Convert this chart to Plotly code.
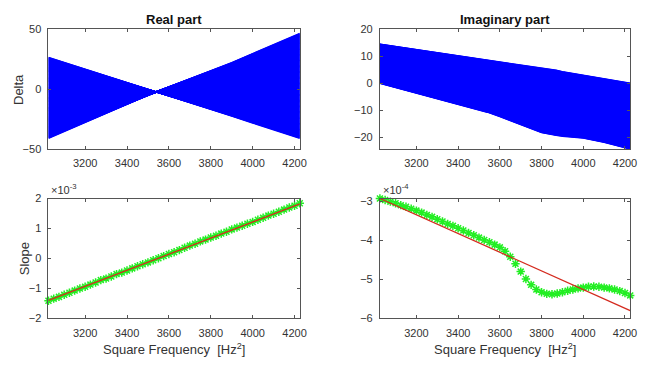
import numpy as np
import plotly.graph_objects as go

W, H = 657, 368

# ---------------- data ----------------
# Square-frequency nodes for the fan of Delta lines (top panels)
fan_freq = [3025, 3200, 3400, 3540, 3600, 3700, 3800, 3870, 3900, 4000, 4100, 4225]
# Real part: Delta of the first and the last line of the family
real_first = [26.6, 16.9, 5.8, -2.0, -5.4, -11.1, -16.8, -20.8, -22.5, -28.2, -33.9, -41.0]
real_last = [-41.0, -27.7, -12.6, -2.0, 2.0, 8.7, 15.3, 20.0, 22.2, 29.7, 37.2, 46.5]
# Imaginary part: Delta of the first and the last line of the family
imag_first = [14.5, 12.5, 10.4, 8.8, 8.1, 6.9, 5.7, 4.8, 4.3, 2.9, 1.6, 0.0]
imag_last = [-0.1, -3.7, -7.8, -10.8, -12.4, -15.5, -18.4, -19.4, -19.7, -20.4, -22.0, -24.5]
n_lines = 220  # number of lines in each fan

# Slope samples (bottom panels)
slope_freq = [3025, 3050, 3075, 3100, 3125, 3150, 3175, 3200, 3225, 3250, 3275, 3300,
              3325, 3350, 3375, 3400, 3425, 3450, 3475, 3500, 3525, 3550, 3575, 3600,
              3625, 3650, 3675, 3700, 3725, 3750, 3775, 3800, 3825, 3850, 3875, 3900,
              3925, 3950, 3975, 4000, 4025, 4050, 4075, 4100, 4125, 4150, 4175, 4200, 4225]
# real-part slope, in units of 1e-3
slope_real = [-1.41, -1.34, -1.28, -1.21, -1.14, -1.07, -1.00, -0.94, -0.87, -0.80, -0.72, -0.67,
              -0.60, -0.52, -0.47, -0.40, -0.33, -0.26, -0.19, -0.13, -0.06, 0.01, 0.08, 0.15,
              0.21, 0.28, 0.36, 0.43, 0.49, 0.57, 0.63, 0.70, 0.76, 0.83, 0.89, 0.97,
              1.03, 1.09, 1.16, 1.22, 1.29, 1.36, 1.43, 1.49, 1.56, 1.63, 1.70, 1.76, 1.84]
# imaginary-part slope, in units of 1e-4
slope_imag = [-2.93, -2.97, -3.01, -3.05, -3.10, -3.14, -3.19, -3.24, -3.29, -3.35, -3.40, -3.46,
              -3.52, -3.58, -3.63, -3.69, -3.75, -3.81, -3.87, -3.93, -3.99, -4.05, -4.11, -4.18,
              -4.28, -4.42, -4.60, -4.80, -4.99, -5.14, -5.26, -5.33, -5.37, -5.38, -5.36, -5.33,
              -5.29, -5.26, -5.23, -5.21, -5.19, -5.18, -5.19, -5.21, -5.23, -5.26, -5.30, -5.35, -5.41]
# linear fits (end points)
fit_freq = [3025, 4225]
fit_real = [-1.40, 1.82]
fit_imag = [-2.93, -5.80]

x_ticks = [3200, 3400, 3600, 3800, 4000, 4200]

# ---------------- figure ----------------
BLUE = "#0000ff"
GREEN = "#22ee22"
RED = "#d42a1e"
AXC = "#555555"
TXT = "#333333"
FONT = "Liberation Sans, Arial, Helvetica, sans-serif"


def fan(first, last, n):
    xs, ys = [], []
    first = np.asarray(first, float)
    last = np.asarray(last, float)
    for t in np.linspace(0.0, 1.0, n):
        xs.extend(fan_freq + [None])
        ys.extend(list(first + (last - first) * t) + [None])
    return xs, ys


fig = go.Figure()

xr, yr = fan(real_first, real_last, n_lines)
fig.add_trace(go.Scatter(x=xr, y=yr, mode="lines", line=dict(color=BLUE, width=1.3),
                         xaxis="x", yaxis="y", showlegend=False, hoverinfo="skip"))
xi, yi = fan(imag_first, imag_last, n_lines)
fig.add_trace(go.Scatter(x=xi, y=yi, mode="lines", line=dict(color=BLUE, width=1.3),
                         xaxis="x2", yaxis="y2", showlegend=False, hoverinfo="skip"))

for s, fit, xa, ya in [(slope_real, fit_real, "x3", "y3"), (slope_imag, fit_imag, "x4", "y4")]:
    fig.add_trace(go.Scatter(x=slope_freq, y=s, mode="markers",
                             marker=dict(symbol="asterisk-open", size=7,
                                         line=dict(color=GREEN, width=1.5), color=GREEN),
                             cliponaxis=False, xaxis=xa, yaxis=ya, showlegend=False))
    fig.add_trace(go.Scatter(x=fit_freq, y=fit, mode="lines", line=dict(color=RED, width=1.3),
                             xaxis=xa, yaxis=ya, showlegend=False))


def px_x(a, b):
    return [a / W, b / W]


def px_y(top, bottom):
    return [1 - bottom / H, 1 - top / H]


common = dict(showline=True, linecolor=AXC, linewidth=1, mirror="ticks", ticks="inside",
              ticklen=3, tickcolor=AXC, showgrid=False, zeroline=False,
              ticklabelstandoff=4,
              tickfont=dict(family=FONT, size=11, color=TXT))

LX = px_x(49, 303)
RX = px_x(384, 637)
TY = px_y(24, 148)
BY = px_y(199, 323)

xax = dict(range=[3025, 4225], tickvals=x_ticks, **common)
fig.update_layout(
    xaxis=dict(domain=LX, anchor="y", **xax),
    yaxis=dict(domain=TY, anchor="x", range=[-50, 50], tickvals=[-50, 0, 50], **common),
    xaxis2=dict(domain=RX, anchor="y2", **xax),
    yaxis2=dict(domain=TY, anchor="x2", range=[-24.5, 20], tickvals=[-20, -10, 0, 10, 20], **common),
    xaxis3=dict(domain=LX, anchor="y3", **xax),
    yaxis3=dict(domain=BY, anchor="x3", range=[-2, 2], tickvals=[-2, -1, 0, 1, 2], **common),
    xaxis4=dict(domain=RX, anchor="y4", **xax),
    yaxis4=dict(domain=BY, anchor="x4", range=[-6, -2.93], tickvals=[-6, -5, -4, -3], **common),
    width=W, height=H, margin=dict(l=0, r=0, t=0, b=0),
    paper_bgcolor="white", plot_bgcolor="white",
    font=dict(family=FONT, color=TXT),
)


def ann(text, x, y, size, color=TXT, angle=0, xanchor="center", yanchor="middle"):
    fig.add_annotation(text=text, x=x / W, y=1 - y / H, xref="paper", yref="paper",
                       showarrow=False, textangle=angle, xanchor=xanchor, yanchor=yanchor,
                       font=dict(family=FONT, size=size, color=color))


ann("<b>Real part</b>", 176, 14, 13, color="#111111")
ann("<b>Imaginary part</b>", 510, 14, 13, color="#111111")
ann("Delta", 18, 86, 13, angle=-90)
ann("Slope", 25, 261, 13, angle=-90)
ann("Square Frequency\u00a0 [Hz<sup>2</sup>]", 176, 355, 13)
ann("Square Frequency\u00a0 [Hz<sup>2</sup>]", 510, 355, 13)
ann("\u00d710<sup>-3</sup>", 50, 189, 11, xanchor="left")
ann("\u00d710<sup>-4</sup>", 385, 189, 11, xanchor="left")

fig.write_html("out.html")
